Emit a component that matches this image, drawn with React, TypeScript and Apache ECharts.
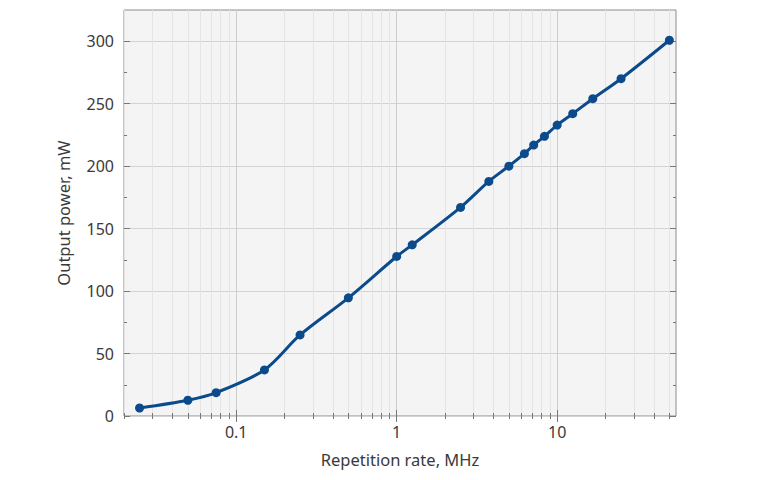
import { useEffect, useRef } from 'react';
import * as echarts from 'echarts';

// repetition rate (MHz) and measured output power (mW)
const rate = [0.025, 0.05, 0.075, 0.15, 0.25, 0.5, 1, 1.25, 2.5, 3.75, 5, 6.25, 7.14, 8.33, 10, 12.5, 16.67, 25, 50];
const power = [6.4, 12.6, 18.7, 36.9, 64.9, 94.6, 127.7, 137, 167, 187.8, 200, 210, 216.9, 223.9, 232.9, 242, 254, 270, 300.8];

const xMajor = [0.1, 1, 10];
const xMinor = [0.02, 0.03, 0.04, 0.05, 0.06, 0.07, 0.08, 0.09, 0.2, 0.3, 0.4, 0.5, 0.6, 0.7, 0.8, 0.9, 2, 3, 4, 5, 6, 7, 8, 9, 20, 30, 40, 50];
const yMajor = [0, 50, 100, 150, 200, 250, 300];
const yMinor = [25, 75, 125, 175, 225, 275];

const FONT = 'Noto Sans';
const TEXT = '#3a3a3a';

function xAxisDef(position: 'top' | 'bottom', values: number[], len: number, labels: boolean, split: string | null) {
  return {
    type: 'log',
    logBase: 10,
    min: 0.02,
    max: 55,
    position,
    axisLine: { show: false },
    axisTick: { show: true, inside: true, length: len, customValues: values, lineStyle: { color: '#777' } },
    axisLabel: labels
      ? { show: true, customValues: xMajor, margin: 8, color: TEXT, fontFamily: FONT, fontSize: 16, formatter: (v: number) => String(v) }
      : { show: false },
    splitLine: split ? { show: true, lineStyle: { color: split, width: 1 } } : { show: false },
  };
}

function yAxisDef(position: 'left' | 'right', values: number[], len: number, labels: boolean, split: string | null) {
  return {
    type: 'value',
    min: 0,
    max: 325,
    position,
    axisLine: { show: false },
    axisTick: { show: true, inside: true, length: len, customValues: values, lineStyle: { color: '#777' } },
    axisLabel: labels
      ? { show: true, customValues: yMajor, margin: 10, color: TEXT, fontFamily: FONT, fontSize: 16 }
      : { show: false },
    splitLine: split ? { show: true, lineStyle: { color: split, width: 1 } } : { show: false },
  };
}

export default function App() {
  const chartRef = useRef<HTMLDivElement>(null);
  useEffect(() => {
    if (!chartRef.current) return;
    document.body.style.margin = '0';
    const chart = echarts.init(chartRef.current, undefined, { renderer: 'svg' });
    const x0: any = xAxisDef('bottom', xMajor, 6, true, '#cdcdcd');
    x0.name = 'Repetition rate, MHz';
    x0.nameLocation = 'middle';
    x0.nameGap = 35;
    x0.nameTextStyle = { color: TEXT, fontFamily: FONT, fontSize: 16.5 };
    const y0: any = yAxisDef('left', yMajor, 6, true, '#d2d2d2');
    y0.name = 'Output power, mW';
    y0.nameLocation = 'middle';
    y0.nameGap = 52;
    y0.nameTextStyle = { color: TEXT, fontFamily: FONT, fontSize: 16.5 };
    chart.setOption({
      animation: false,
      grid: {
        left: 124,
        right: 92,
        top: 10,
        bottom: 64,
        show: true,
        backgroundColor: '#f4f4f4',
        borderColor: '#8c8c8c',
        borderWidth: 1,
        outerBoundsMode: 'none',
      },
      xAxis: [
        x0,
        xAxisDef('bottom', xMinor, 3, false, '#e4e4e4'),
        xAxisDef('top', xMajor, 6, false, null),
        xAxisDef('top', xMinor, 3, false, null),
      ],
      yAxis: [
        y0,
        yAxisDef('left', yMinor, 3, false, null),
        yAxisDef('right', yMajor, 6, false, null),
        yAxisDef('right', yMinor, 3, false, null),
      ],
      series: [
        {
          type: 'line',
          xAxisIndex: 0,
          yAxisIndex: 0,
          data: rate.map((r, i) => [r, power[i]]),
          smooth: 0.3,
          symbol: 'circle',
          symbolSize: 9,
          lineStyle: { color: '#0b4a8b', width: 3 },
          itemStyle: { color: '#0b4a8b' },
          z: 5,
        },
      ],
    });
    return () => {
      chart.dispose();
    };
  }, []);
  return <div ref={chartRef} style={{ width: 768, height: 480 }} />;
}
